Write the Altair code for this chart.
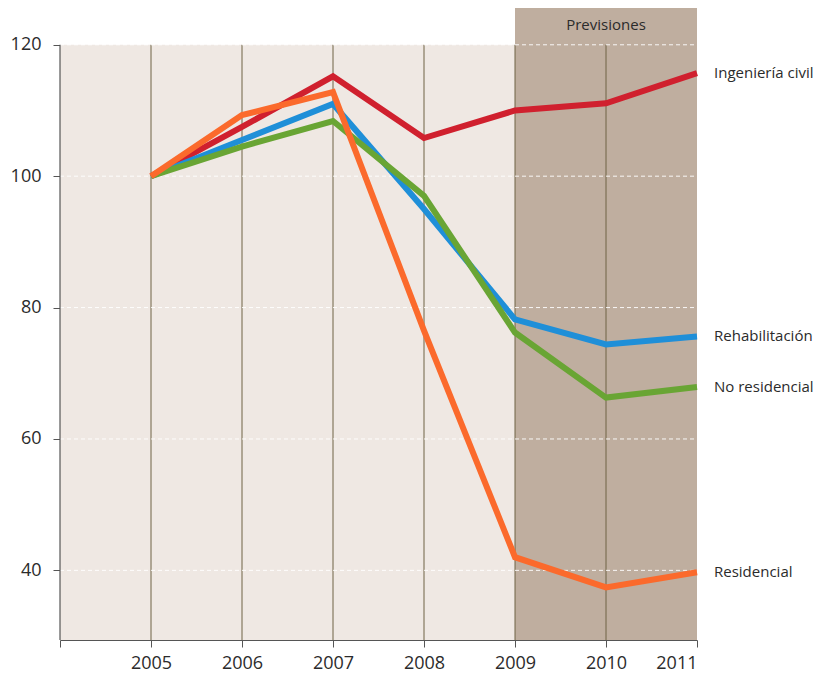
import altair as alt
import pandas as pd

# ---------------- data ----------------
years = [2005, 2006, 2007, 2008, 2009, 2010, 2011]
ingenieria_civil = [100, 107.5, 115.2, 105.8, 110.0, 111.1, 115.7]
rehabilitacion = [100, 105.5, 111.0, 95.0, 78.2, 74.4, 75.6]
no_residencial = [100, 104.5, 108.4, 97.0, 76.2, 66.3, 67.9]
residencial = [100, 109.3, 112.8, 76.5, 42.0, 37.4, 39.7]

series_names = ["Ingeniería civil", "Rehabilitación", "No residencial", "Residencial"]
series_values = [ingenieria_civil, rehabilitacion, no_residencial, residencial]
series_colors = ["#d0202e", "#1f8fd8", "#69a534", "#fb6a2c"]

x_ticks = [2004, 2005, 2006, 2007, 2008, 2009, 2010, 2011]
y_ticks = [40, 60, 80, 100, 120]
x_domain = [2004, 2011]
y_domain = [29.4, 125.6]
forecast_span = [2009, 2011]
forecast_label = "Previsiones"
forecast_label_y = 123.0
vgrid_years = [2005, 2006, 2007, 2008, 2009, 2010]

FONT = "Open Sans"
TXT = "#2b2b2b"

# ---------------- tables ----------------
lines_df = pd.DataFrame(
    [
        {"year": y, "value": v, "serie": n, "ord": i}
        for i, (n, vals) in enumerate(zip(series_names, series_values))
        for y, v in zip(years, vals)
    ]
)
labels_df = pd.DataFrame(
    [{"year": years[-1], "value": vals[-1], "serie": n} for n, vals in zip(series_names, series_values)]
)
bg_df = pd.DataFrame(
    [
        {"x": x_domain[0], "x2": forecast_span[0], "y": y_domain[0], "y2": y_ticks[-1], "fill": "#efe8e3"},
        {"x": forecast_span[0], "x2": forecast_span[1], "y": y_domain[0], "y2": y_domain[1], "fill": "#bfae9f"},
    ]
)
vgrid_df = pd.DataFrame({"x": vgrid_years, "y": y_domain[0], "y2": y_ticks[-1]})
hgrid_df = pd.DataFrame({"y": y_ticks, "x": x_domain[0], "x2": x_domain[1]})
yaxis_df = pd.DataFrame({"x": [x_domain[0]], "y": [y_domain[0]], "y2": [y_ticks[-1]]})
prev_df = pd.DataFrame({"x": [(forecast_span[0] + forecast_span[1]) / 2], "y": [forecast_label_y], "t": [forecast_label]})

xscale = alt.Scale(domain=x_domain, nice=False, zero=False)
yscale = alt.Scale(domain=y_domain, nice=False, zero=False)

xaxis = alt.Axis(
    values=x_ticks, format="d", title=None, grid=False,
    labelExpr="datum.value == 2004 ? '' : datum.label",
    tickSize=7, tickColor="#555", domainColor="#555", domainWidth=1.2,
    labelFontSize=18, labelPadding=7, labelColor=TXT, labelFont=FONT,
)
yaxis = alt.Axis(
    values=y_ticks, format="d", title=None, grid=False, domain=False,
    tickSize=7, tickColor="#555", labelFontSize=18, labelPadding=12,
    labelColor=TXT, labelFont=FONT,
)


def X(field):
    return alt.X(field, type="quantitative", scale=xscale, axis=xaxis)


def Y(field):
    return alt.Y(field, type="quantitative", scale=yscale, axis=yaxis)


bg = alt.Chart(bg_df).mark_rect().encode(
    x=X("x"), x2="x2", y=Y("y"), y2="y2",
    color=alt.Color("fill:N", scale=None),
)

vgrid = alt.Chart(vgrid_df).mark_rule(color="#6e6244", strokeWidth=1).encode(
    x=X("x"), y=Y("y"), y2="y2"
)

hgrid = alt.Chart(hgrid_df).mark_rule(color="white", strokeWidth=1, strokeDash=[4, 3], opacity=0.9).encode(
    y=Y("y"), x=X("x"), x2="x2"
)

yaxis_line = alt.Chart(yaxis_df).mark_rule(color="#555", strokeWidth=1.2).encode(
    x=X("x"), y=Y("y"), y2="y2"
)

lines = alt.Chart(lines_df).mark_line(strokeWidth=6, strokeJoin="miter", strokeCap="butt").encode(
    x=X("year"), y=Y("value"),
    color=alt.Color("serie:N", scale=alt.Scale(domain=series_names, range=series_colors), legend=None),
    detail="serie:N",
)

labels = alt.Chart(labels_df).mark_text(
    align="left", baseline="middle", dx=17, fontSize=15, font=FONT, color=TXT
).encode(x=X("year"), y=Y("value"), text="serie:N")

prev = alt.Chart(prev_df).mark_text(
    align="center", baseline="middle", fontSize=15, font=FONT, color=TXT
).encode(x=X("x"), y=Y("y"), text="t:N")

chart = (
    alt.layer(bg, vgrid, hgrid, yaxis_line, lines, labels, prev)
    .properties(
        width=637,
        height=632,
        autosize=alt.AutoSizeParams(type="none"),
        padding={"left": 52, "top": 0, "right": 118, "bottom": 34},
        background="white",
    )
    .configure_view(stroke=None)
)

chart.save("out.html", embed_options={"renderer": "svg", "actions": False})
